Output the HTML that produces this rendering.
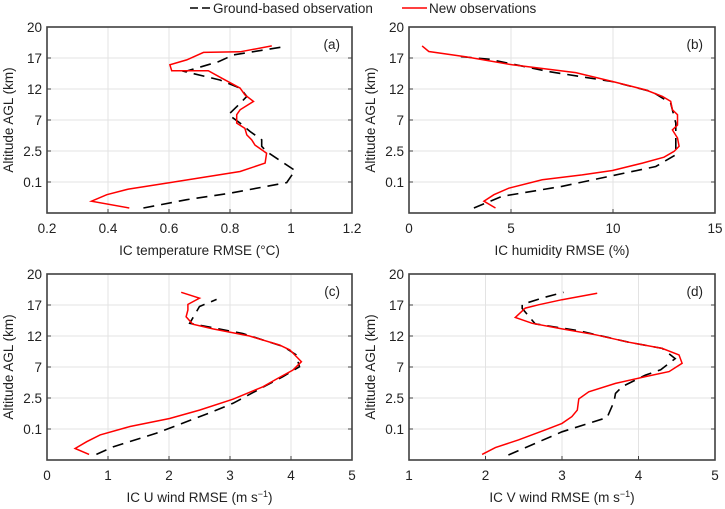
<!DOCTYPE html>
<html><head><meta charset="utf-8"><style>
body{margin:0;background:#fff;}
svg{display:block;font-family:"Liberation Sans",sans-serif;}
</style></head><body>
<svg id="chart" width="725" height="509">
<g id="legend">
<line x1="190" y1="8" x2="210" y2="8" stroke="#000" stroke-width="1.6" stroke-dasharray="8,4"/>
<text x="213" y="13" font-size="13.5" fill="#222">Ground-based observation</text>
<line x1="402" y1="8" x2="427" y2="8" stroke="#f00" stroke-width="1.6"/>
<text x="429" y="13" font-size="13.5" fill="#222">New observations</text>
</g>
</svg>
<script>
const levelLabels=["","0.1","2.5","7","12","17","20"];
// panel a
const aXTicks=[0.2,0.4,0.6,0.8,1,1.2];
const aRedX=[0.470,0.346,0.396,0.467,0.603,0.833,0.915,0.920,0.904,0.882,0.871,0.855,0.849,0.822,0.822,0.833,0.877,0.849,0.833,0.773,0.729,0.609,0.603,0.658,0.713,0.833,0.937];
const aRedY=[0.16,0.38,0.59,0.77,0.98,1.34,1.61,1.93,2.04,2.19,2.36,2.52,2.73,2.90,3.17,3.33,3.60,3.81,4.03,4.35,4.59,4.59,4.78,4.94,5.18,5.20,5.39];
const aBlkX=[0.516,0.658,0.800,0.986,1.013,0.920,0.904,0.904,0.866,0.833,0.795,0.822,0.855,0.833,0.767,0.652,0.762,0.811,0.975];
const aBlkY=[0.16,0.43,0.64,0.98,1.37,1.98,2.15,2.36,2.63,2.90,3.17,3.43,3.76,4.03,4.29,4.56,4.88,5.10,5.36];
// panel b
const bXTicks=[0,5,10,15];
const bRedX=[4.24,3.67,4.16,4.89,6.53,8.49,9.97,11.44,12.5,13.0,13.24,13.16,12.91,13.16,13.16,12.91,12.83,12.42,11.6,10.0,8.17,5.06,2.77,0.97,0.64];
const bRedY=[0.16,0.38,0.59,0.80,1.07,1.23,1.37,1.61,1.80,1.99,2.15,2.42,2.68,2.84,3.17,3.33,3.60,3.76,3.97,4.24,4.53,4.78,5.04,5.21,5.39];
const bBlkX=[3.18,4.57,7.51,12.10,13.08,13.08,13.08,12.83,11.93,9.97,6.86,3.91,2.27];
const bBlkY=[0.16,0.54,0.86,1.50,1.88,2.36,2.90,3.54,3.91,4.24,4.56,4.96,5.06];
// panel c
const cXTicks=[0,1,2,3,4,5];
const cRedX=[0.69,0.46,0.65,0.87,1.36,2.01,2.50,3.05,3.54,3.76,4.03,4.17,3.98,3.81,3.32,2.72,2.39,2.28,2.31,2.31,2.50,2.20];
const cRedY=[0.18,0.37,0.59,0.81,1.08,1.34,1.61,1.96,2.36,2.61,2.90,3.17,3.55,3.71,4.00,4.23,4.38,4.62,4.84,5.02,5.22,5.41];
const cBlkX=[0.81,1.09,1.79,2.72,3.05,3.59,3.87,4.14,4.08,3.87,3.21,2.34,2.50,2.78];
const cBlkY=[0.18,0.43,0.86,1.56,1.83,2.40,2.69,3.01,3.40,3.66,4.08,4.41,4.95,5.18];
// panel d
const dXTicks=[1,2,3,4,5];
const dRedX=[1.955,2.13,2.43,2.78,3.00,3.13,3.20,3.22,3.35,3.70,4.09,4.40,4.57,4.53,4.31,3.87,3.44,3.00,2.61,2.39,2.52,2.70,3.00,3.46];
const dRedY=[0.18,0.40,0.65,0.97,1.18,1.40,1.61,1.97,2.20,2.47,2.69,2.85,3.12,3.39,3.60,3.80,4.04,4.23,4.41,4.60,4.90,5.01,5.17,5.38];
const dBlkX=[2.30,3.00,3.59,3.68,3.70,3.79,4.09,4.29,4.48,4.31,3.87,3.22,2.65,2.48,2.48,2.76,3.02];
const dBlkY=[0.16,0.91,1.37,1.88,2.15,2.37,2.74,2.91,3.27,3.60,3.80,4.17,4.39,4.89,5.02,5.24,5.41];

const NS="http://www.w3.org/2000/svg";
const svg=document.getElementById('chart');
function mk(tag,attrs,parent){const e=document.createElementNS(NS,tag);for(const k in attrs)e.setAttribute(k,attrs[k]);parent.appendChild(e);return e;}

const panels=[
 {id:'a',x0:47,x1:352,y0:27,y1:213,xt:aXTicks,xmin:0.2,xmax:1.2,label:'IC temperature RMSE (°C)',rx:aRedX,ry:aRedY,bx:aBlkX,by:aBlkY},
 {id:'b',x0:409,x1:715,y0:27,y1:213,xt:bXTicks,xmin:0,xmax:15,label:'IC humidity RMSE (%)',rx:bRedX,ry:bRedY,bx:bBlkX,by:bBlkY},
 {id:'c',x0:47,x1:352,y0:274,y1:460,xt:cXTicks,xmin:0,xmax:5,label:'IC U wind RMSE (m s',sup:true,rx:cRedX,ry:cRedY,bx:cBlkX,by:cBlkY},
 {id:'d',x0:409,x1:715,y0:274,y1:460,xt:dXTicks,xmin:1,xmax:5,label:'IC V wind RMSE (m s',sup:true,rx:dRedX,ry:dRedY,bx:dBlkX,by:dBlkY}
];
panels.forEach(p=>{
 const g=mk('g',{},svg);
 
 
 const sx=v=>p.x0+(v-p.xmin)/(p.xmax-p.xmin)*(p.x1-p.x0);
 const sy=v=>p.y1-v/6*(p.y1-p.y0);
 p.xt.forEach(t=>{
  const l=mk('line',{x1:sx(t),x2:sx(t),y1:p.y0,y2:p.y1,stroke:'#e3e3e3','stroke-width':1},g);
  
  
  const tk=mk('line',{x1:sx(t),x2:sx(t),y1:p.y1,y2:p.y1-4,stroke:'#404040','stroke-width':1},g);
  
  
  const tx=mk('text',{x:sx(t),y:p.y1+20,'text-anchor':'middle','font-size':'13.5',fill:'#222'},g);
  tx.textContent=String(t);
  
  
 });
 levelLabels.forEach((lab,i)=>{
  const y=sy(i);
  const l=mk('line',{x1:p.x0,x2:p.x1,y1:y,y2:y,stroke:'#e3e3e3','stroke-width':1},g);
  
  
  const tk=mk('line',{x1:p.x0,x2:p.x0+4,y1:y,y2:y,stroke:'#404040'},g);
  
  
  const tk2=mk('line',{x1:p.x1,x2:p.x1-4,y1:y,y2:y,stroke:'#404040'},g);
  
  
  if(lab){const tx=mk('text',{x:p.x0-5,y:y+5,'text-anchor':'end','font-size':'13.5',fill:'#222'},g);
  tx.textContent=lab;
  
  }
 });
 const pts=(xs,ys)=>xs.map((v,i)=>sx(v).toFixed(1)+','+sy(ys[i]).toFixed(1)).join(' ');
 const bl=mk('polyline',{points:pts(p.bx,p.by),fill:'none',stroke:'#000','stroke-width':1.6,'stroke-dasharray':'11,7'},g);
 
 
 const rl=mk('polyline',{points:pts(p.rx,p.ry),fill:'none',stroke:'#f00','stroke-width':1.5},g);
 
 
 const box=mk('rect',{x:p.x0,y:p.y0,width:p.x1-p.x0,height:p.y1-p.y0,fill:'none',stroke:'#404040','stroke-width':1.6},g);
 
 
 const pl=mk('text',{x:p.x1-12,y:p.y0+22,'text-anchor':'end','font-size':'13.5',fill:'#222'},g);
 pl.textContent='('+p.id+')';
 
 
 const xl=mk('text',{x:(p.x0+p.x1)/2,y:p.y1+42,'text-anchor':'middle','font-size':'13.5',fill:'#222'},g);
 xl.textContent=p.label;
 if(p.sup){const s=mk('tspan',{dy:-5,'font-size':'9'},xl);s.textContent='−1';const s2=mk('tspan',{dy:5},xl);s2.textContent=')';}
 
 
 const yx=p.x0-34, yc=(p.y0+p.y1)/2;
 const yl=mk('text',{x:yx,y:yc,'text-anchor':'middle','font-size':'13.5',fill:'#222',transform:'rotate(-90 '+yx+' '+yc+')'},g);
 yl.textContent='Altitude AGL (km)';
 
 
});
</script>
</body></html>
